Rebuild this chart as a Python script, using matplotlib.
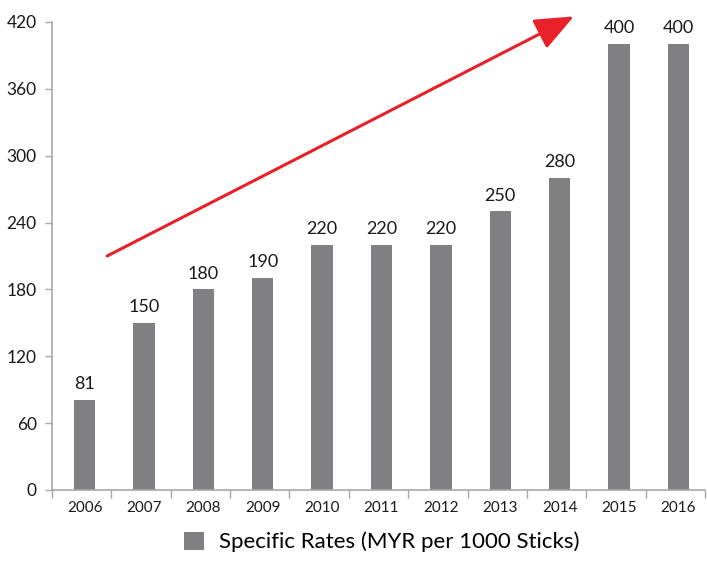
import matplotlib
matplotlib.use("Agg")
import matplotlib.pyplot as plt
import numpy as np

plt.rcParams['font.family'] = ['Lato', 'DejaVu Sans']

years = ['2006', '2007', '2008', '2009', '2010', '2011', '2012', '2013', '2014', '2015', '2016']
rates = [81, 150, 180, 190, 220, 220, 220, 250, 280, 400, 400]
y_ticks = [0, 60, 120, 180, 240, 300, 360, 420]
series_name = 'Specific Rates (MYR per 1000 Sticks)'

# trend arrow, in data units (category index, rate)
trend_start = (0.43, 210)
trend_end = (8.29, 425)

bar_color = '#808083'
axis_color = '#a8a8aa'

fig = plt.figure(figsize=(7.07, 5.63), dpi=100)
ax = fig.add_axes([52 / 707, 1 - 490 / 563, 653 / 707, 468 / 563])

x = np.arange(len(years))
bars = ax.bar(x + 0.05, rates, width=0.36, color=bar_color, label=series_name, zorder=2)

for xi, v in zip(x, rates):
    ax.text(xi + 0.05, v + 7, str(v), ha='center', va='bottom', fontsize=13, color='#1a1a1a')

ax.set_xlim(-0.5, 10.5)
ax.set_ylim(0, 420)

# y axis
ax.set_yticks(y_ticks)
ax.set_yticklabels([str(t) for t in y_ticks], fontsize=12.5, color='#1a1a1a')
ax.tick_params(axis='y', length=5, width=1, color=axis_color, pad=6, direction='out')

# x axis: labels centred, tick marks on category boundaries
ax.set_xticks(x + 0.05)
ax.set_xticklabels(years, fontsize=11, color='#1a1a1a')
ax.tick_params(axis='x', length=0, pad=8)
ax.set_xticks(np.arange(len(years) + 1) - 0.5, minor=True)
ax.tick_params(axis='x', which='minor', length=6, width=1, color=axis_color, direction='out')

for side in ['top', 'right']:
    ax.spines[side].set_visible(False)
for side in ['left', 'bottom']:
    ax.spines[side].set_color(axis_color)
    ax.spines[side].set_linewidth(1.2)

ax.annotate('', xy=trend_end, xytext=trend_start, annotation_clip=False,
            arrowprops=dict(arrowstyle='-|>,head_length=2.4,head_width=1.0',
                            color='#e8202a', lw=2.2, shrinkA=0, shrinkB=0))

fig.legend(handles=[bars], loc='lower center', bbox_to_anchor=(0.54, -0.005),
           frameon=False, fontsize=16, handlelength=0.9, handleheight=0.9,
           handletextpad=0.7, borderaxespad=0.2)

fig.savefig('out.png', dpi=100)
